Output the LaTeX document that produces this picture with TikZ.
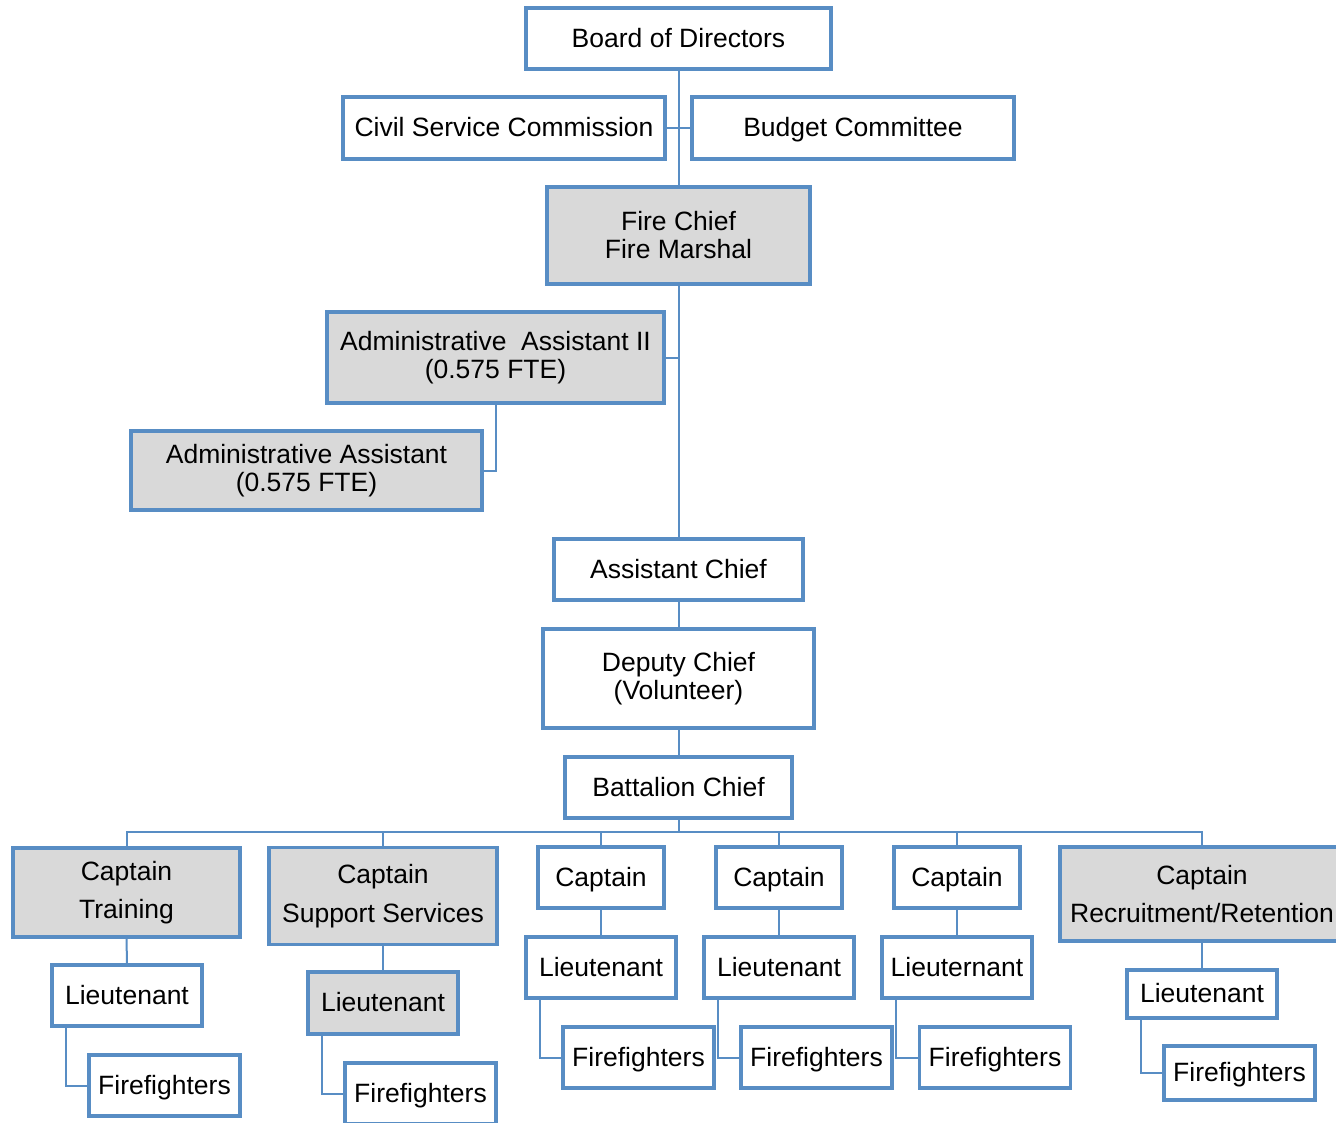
\documentclass[tikz,border=0pt]{standalone}
\usepackage{fontspec}
\setmainfont{Liberation Sans}
\definecolor{boxblue}{RGB}{88,141,196}
\definecolor{boxgray}{RGB}{217,217,217}

\begin{document}
\begin{tikzpicture}[x=1pt,y=-1pt,
  box/.style={draw=boxblue, line width=3.5pt, fill=white, rectangle, inner sep=0pt,
              align=center, font=\fontsize{26.5}{28}\selectfont},
  single/.style={text height=21pt, text depth=3.5pt},
  grey/.style={fill=boxgray},
  wide/.style={font=\fontsize{26.5}{38.5}\selectfont},
  dims/.style 2 args={minimum width=#1, minimum height=#2},
  link/.style={draw=boxblue, line width=2pt}
]
\useasboundingbox (0,0) rectangle (1336,1122);

% governance and command
\node[box, single, dims={305}{61}] (board) at (678.5,38.5) {Board of Directors};
\node[box, single, dims={322}{62}] (civil) at (504,128) {Civil Service Commission};
\node[box, single, dims={322}{62}] (budget) at (853,128) {Budget Committee};
\node[box, grey, dims={263}{97}] (chief) at (678.5,235.5) {Fire Chief\\Fire Marshal};
\node[box, grey, dims={337}{91}] (adm2) at (495.5,357.5) {Administrative~ Assistant II\\(0.575 FTE)};
\node[box, grey, dims={351}{79}] (adm) at (306.5,470.5) {Administrative Assistant\\(0.575 FTE)};
\node[box, single, dims={249}{61}] (asst) at (678.5,569.5) {Assistant Chief};
\node[box, dims={271}{99}] (deputy) at (678.5,678.5) {Deputy Chief\\(Volunteer)};
\node[box, single, dims={227}{61}] (batt) at (678.5,787.5) {Battalion Chief};

% captains
\node[box, grey, wide, dims={227}{89}] (capT) at (126.5,892.5) {Captain\\Training};
\node[box, grey, wide, dims={228}{97}] (capS) at (383,896) {Captain\\Support Services};
\node[box, single, dims={126}{61}] (capA) at (601,877.5) {Captain};
\node[box, single, dims={126}{61}] (capB) at (779,877.5) {Captain};
\node[box, single, dims={126}{61}] (capC) at (957,877.5) {Captain};
\node[box, grey, wide, dims={284}{94}] (capR) at (1202,894) {Captain\\Recruitment/Retention};

% lieutenants
\node[box, single, dims={150}{61}] (ltT) at (127,995.5) {Lieutenant};
\node[box, single, grey, dims={150}{62}] (ltS) at (383,1003) {Lieutenant};
\node[box, single, dims={150}{61}] (ltA) at (601,967.5) {Lieutenant};
\node[box, single, dims={150}{61}] (ltB) at (779,967.5) {Lieutenant};
\node[box, single, dims={150}{61}] (ltC) at (957,967.5) {Lieuternant};
\node[box, single, dims={150}{48}] (ltR) at (1202,994) {Lieutenant};

% firefighters
\node[box, single, dims={151}{61}] (ffT) at (164.5,1085.5) {Firefighters};
\node[box, single, dims={151}{61}] (ffS) at (420.5,1093.5) {Firefighters};
\node[box, single, dims={151}{61}] (ffA) at (638.5,1057.5) {Firefighters};
\node[box, single, dims={151}{61}] (ffB) at (816.5,1057.5) {Firefighters};
\node[box, single, dims={151}{61}] (ffC) at (995,1057.5) {Firefighters};
\node[box, single, dims={151}{54}] (ffR) at (1239.5,1073) {Firefighters};

% reporting lines
\draw[link] (board.south) -- (chief.north);
\draw[link] (civil.east) -- (budget.west);
\draw[link] (chief.south) -- (asst.north);
\draw[link] (adm2.east) -- (chief.south |- adm2.east);
\draw[link] (adm2.south) |- (adm.east);
\draw[link] (asst.south) -- (deputy.north);
\draw[link] (deputy.south) -- (batt.north);

\coordinate (bus) at (678.5,832);
\draw[link] (batt.south) -- (bus);
\draw[link] (capT.north) -- (capT.north |- bus) -- (capR.north |- bus) -- (capR.north);
\foreach \c in {capS,capA,capB,capC}
  \draw[link] (\c.north) -- (\c.north |- bus);

\foreach \c/\l in {capT/ltT,capS/ltS,capA/ltA,capB/ltB,capC/ltC,capR/ltR}
  \draw[link] (\c.south) -- (\l.north);

\foreach \l/\f in {ltT/ffT,ltS/ffS,ltA/ffA,ltB/ffB,ltC/ffC,ltR/ffR}
  \draw[link] ([xshift=16pt]\l.south west) |- (\f.west);
\end{tikzpicture}
\end{document}
